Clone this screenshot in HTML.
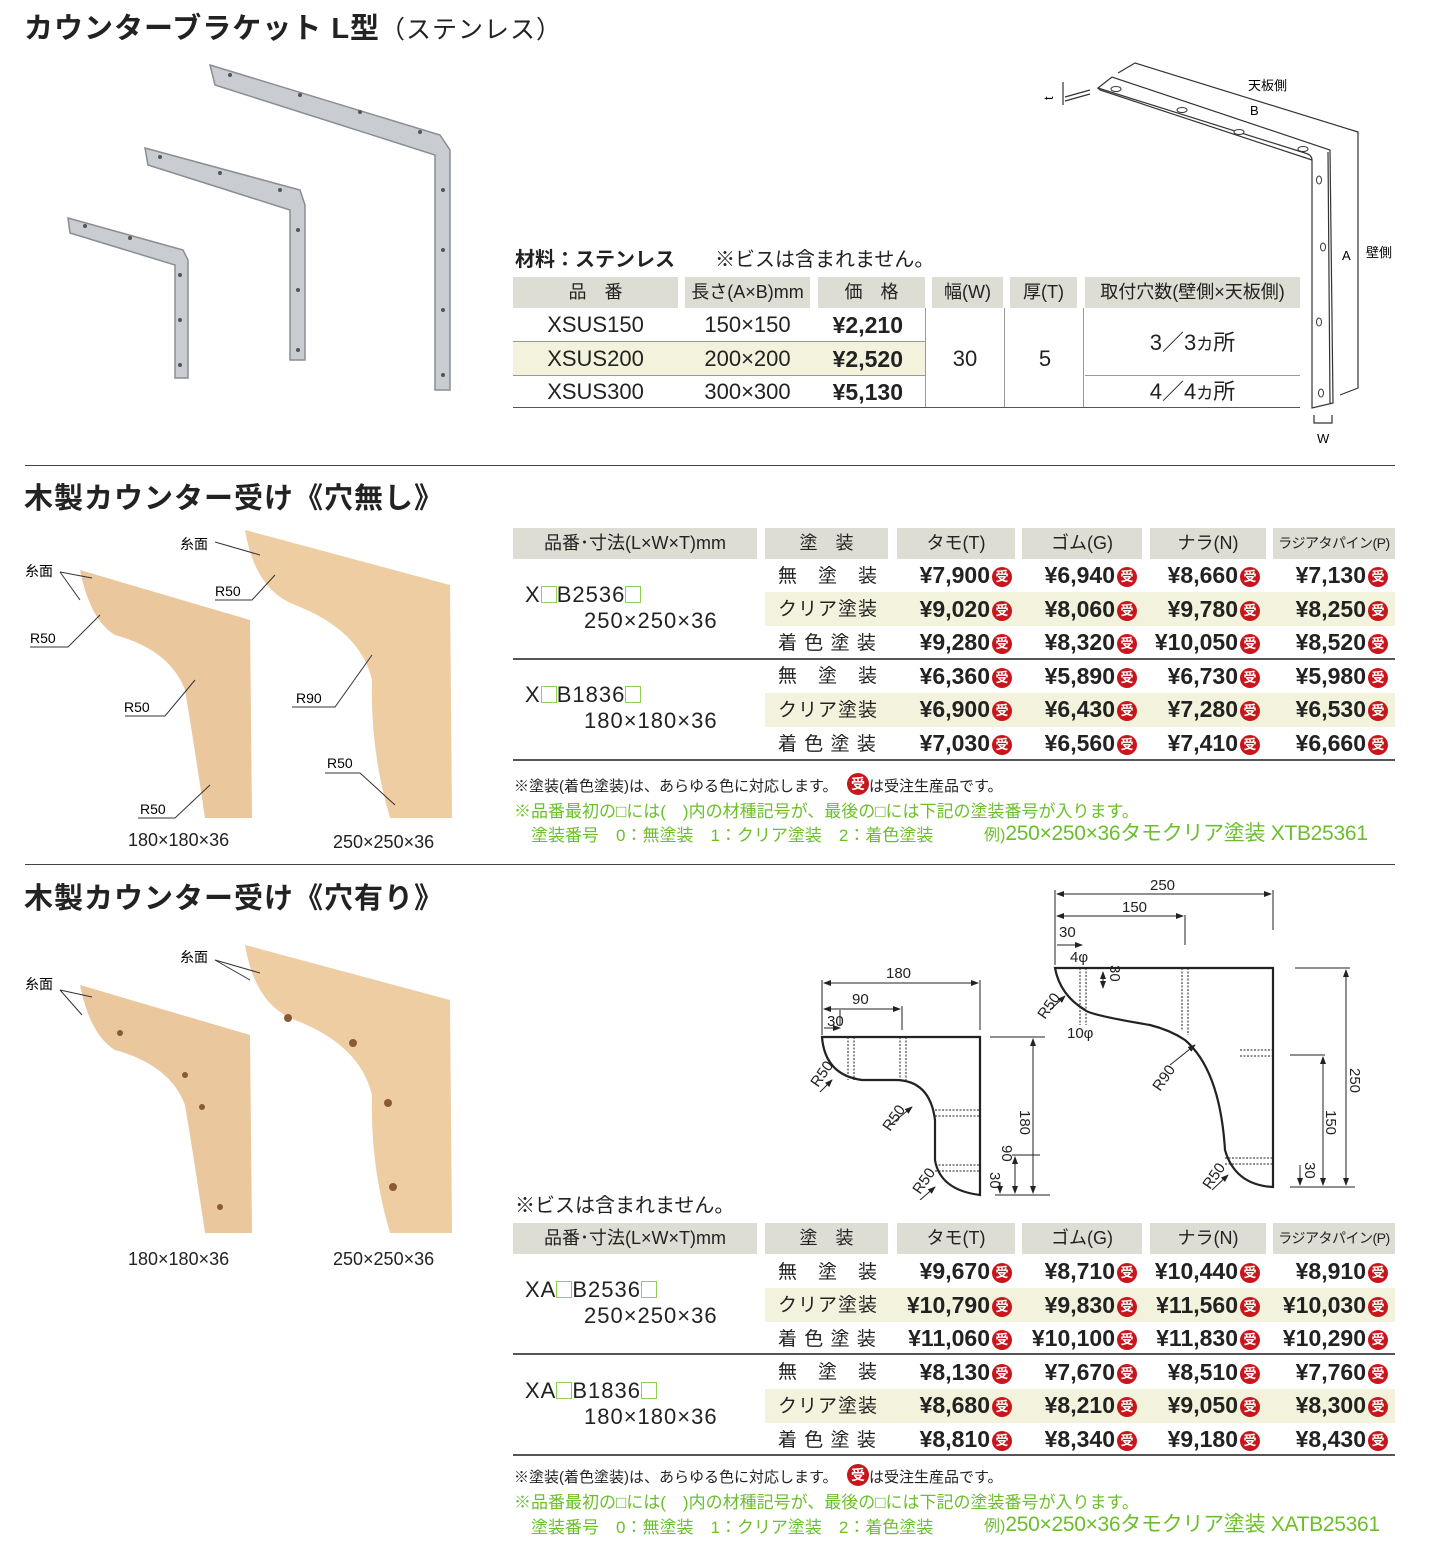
<!DOCTYPE html>
<html><head><meta charset="utf-8">
<style>
*{margin:0;padding:0;box-sizing:border-box}
body{width:1429px;height:1548px;background:#fff;position:relative;overflow:hidden;font-family:"Liberation Sans","Noto Sans CJK JP",sans-serif;color:#222}
.a{position:absolute;white-space:nowrap}
.h1{font-size:29px;font-weight:bold;letter-spacing:1px}
.hd{position:absolute;background:#ddddd3;height:31px;font-size:18px;text-align:center;line-height:31px;white-space:nowrap;overflow:hidden}
.line{position:absolute;height:2px;background:#555}
.tl{position:absolute;height:1px;background:#999}
.hl{position:absolute;background:#f3f3dd}
.t{position:absolute;font-size:22px;text-align:center;line-height:33px}
.p{position:absolute;font-size:23px;font-weight:bold;text-align:right;line-height:33px;white-space:nowrap}
.u{display:inline-block;width:20px;height:20px;border-radius:50%;background:#c8161d;color:#fff;font-size:13px;line-height:20px;text-align:center;vertical-align:2px;margin-left:2px;font-weight:bold}
.ct{position:absolute;font-size:19px;line-height:33px;letter-spacing:1px}
.g{color:#6bbf2a}
.bx{display:inline-block;width:16px;height:17px;border:1.5px solid #8fd14f;vertical-align:-1px}
.note{font-size:15px}
.gn{font-size:17px}
.md{font-size:22px;letter-spacing:1px}
.ex{font-size:21px;letter-spacing:-0.3px}
</style></head><body>

<div class="a h1" style="left:24px;top:5px">カウンターブラケット L型<span style="font-weight:normal;font-size:25px">（ステンレス）</span></div>

<!-- steel brackets -->
<svg class="a" style="left:60px;top:60px" width="400" height="340">
<g fill="#c9ccd0" stroke="#8a8e94" stroke-width="1.5">
<polygon points="150,5 380,75 390,90 390,330 375,330 375,95 155,25"/>
<polygon points="85,88 240,130 245,145 245,300 230,300 230,150 88,105"/>
<polygon points="8,158 123,190 128,200 128,318 115,318 115,205 10,173"/>
</g>
<g fill="#555"><circle cx="170" cy="15" r="2"/><circle cx="240" cy="35" r="2"/><circle cx="300" cy="52" r="2"/><circle cx="360" cy="72" r="2"/><circle cx="383" cy="130" r="2"/><circle cx="383" cy="190" r="2"/><circle cx="383" cy="250" r="2"/><circle cx="383" cy="315" r="2"/>
<circle cx="100" cy="97" r="2"/><circle cx="160" cy="113" r="2"/><circle cx="220" cy="130" r="2"/><circle cx="238" cy="170" r="2"/><circle cx="238" cy="230" r="2"/><circle cx="238" cy="290" r="2"/>
<circle cx="25" cy="166" r="2"/><circle cx="70" cy="178" r="2"/><circle cx="120" cy="215" r="2"/><circle cx="120" cy="260" r="2"/><circle cx="120" cy="305" r="2"/></g>
</svg>

<!-- spec diagram (offset 1040,60) -->
<svg class="a" style="left:1040px;top:60px" width="380" height="400" font-size="13" font-family="Liberation Sans,Noto Sans CJK JP,sans-serif">
<g fill="none" stroke="#333" stroke-width="1.2">
<path d="M58,28 L72,17 L290,90 L293,343 L272,348 L272,100 Q272,95 265,93 L58,28Z"/>
<path d="M58,28 L60,30 L272,100"/>
<path d="M288,92 L290,343"/>
<path d="M78,13 L95,3 L318,72 L318,328 L300,335"/>
<line x1="23" y1="22" x2="23" y2="45"/><line x1="25" y1="37" x2="50" y2="30"/><line x1="25" y1="41" x2="50" y2="34"/>
<path d="M274,355 V363 H292 V355"/>
</g>
<g fill="#fff" stroke="#333" stroke-width="1"><ellipse cx="76" cy="29" rx="5" ry="2.5"/><ellipse cx="142" cy="50" rx="5" ry="2.5"/><ellipse cx="199" cy="72" rx="5" ry="2.5"/><ellipse cx="263" cy="89" rx="5" ry="2.5"/><ellipse cx="279" cy="120" rx="2.5" ry="4"/><ellipse cx="283" cy="187" rx="2.5" ry="4"/><ellipse cx="279" cy="262" rx="2.5" ry="4"/><ellipse cx="281" cy="333" rx="2.5" ry="4"/></g>
<text x="208" y="30">天板側</text><text x="210" y="55">B</text><text x="302" y="200">A</text><text x="326" y="197">壁側</text><text x="277" y="383">W</text><text x="5" y="40" transform="rotate(-90 9 36)">t</text>
</svg>

<div class="a" style="left:515px;top:243px;font-size:20px;font-weight:bold">材料：ステンレス　　<span style="font-weight:normal">※ビスは含まれません。</span></div>

<!-- table1 -->
<div class="hd" style="left:513px;top:277px;width:165px">品　番</div>
<div class="hd" style="left:685px;top:277px;width:125px">長さ(A×B)mm</div>
<div class="hd" style="left:818px;top:277px;width:107px">価　格</div>
<div class="hd" style="left:932px;top:277px;width:71px">幅(W)</div>
<div class="hd" style="left:1010px;top:277px;width:67px">厚(T)</div>
<div class="hd" style="left:1085px;top:277px;width:215px">取付穴数(壁側×天板側)</div>
<div class="hl" style="left:513px;top:341px;width:412px;height:34px"></div>
<div class="tl" style="left:513px;top:341px;width:412px"></div>
<div class="tl" style="left:513px;top:375px;width:412px"></div>
<div class="tl" style="left:1085px;top:375px;width:215px"></div>
<div class="a" style="left:925px;top:308px;width:1px;height:100px;background:#999"></div>
<div class="a" style="left:1004px;top:308px;width:1px;height:100px;background:#999"></div>
<div class="a" style="left:1083px;top:308px;width:1px;height:100px;background:#999"></div>
<div class="line" style="left:513px;top:407px;width:787px;height:1px;background:#555"></div>
<div class="t" style="left:513px;top:308px;width:165px">XSUS150</div>
<div class="t" style="left:513px;top:342px;width:165px">XSUS200</div>
<div class="t" style="left:513px;top:375px;width:165px">XSUS300</div>
<div class="t" style="left:685px;top:308px;width:125px">150×150</div>
<div class="t" style="left:685px;top:342px;width:125px">200×200</div>
<div class="t" style="left:685px;top:375px;width:125px">300×300</div>
<div class="p" style="left:818px;top:309px;width:85px">¥2,210</div>
<div class="p" style="left:818px;top:343px;width:85px">¥2,520</div>
<div class="p" style="left:818px;top:376px;width:85px">¥5,130</div>
<div class="t" style="left:925px;top:342px;width:80px">30</div>
<div class="t" style="left:1005px;top:342px;width:80px">5</div>
<div class="t" style="left:1085px;top:326px;width:215px">3／3<span style="font-size:17px">カ</span>所</div>
<div class="t" style="left:1085px;top:375px;width:215px">4／4<span style="font-size:17px">カ</span>所</div>

<div class="line" style="left:25px;top:465px;width:1370px;height:1px;background:#444"></div>

<div class="a h1" style="left:24px;top:475px">木製カウンター受け《穴無し》</div>

<!-- wood brackets 1 -->
<svg class="a" style="left:20px;top:520px" width="440" height="310" font-size="14" font-family="Liberation Sans,sans-serif">
<path d="M60,50 L230,100 L232,298 L185,298 Q175,230 165,170 Q150,130 95,115 Q70,100 60,50Z" fill="#eac79c"/>
<path d="M225,10 L430,65 L432,298 L370,298 Q350,230 352,160 Q340,110 275,85 Q235,70 225,10Z" fill="#eecda3"/>
<g stroke="#333" fill="none" stroke-width="1">
<path d="M195,22 L240,35"/><path d="M40,52 L72,58"/><path d="M40,52 L60,80"/><path d="M10,127 L48,127 L80,95"/><path d="M105,196 L145,196 L175,160"/><path d="M118,298 L155,298 L190,265"/>
<path d="M195,80 L232,80 L255,55"/><path d="M272,187 L315,187 L352,135"/><path d="M305,253 L340,253 L375,285"/></g>
<text x="160" y="29">糸面</text><text x="5" y="56">糸面</text><text x="10" y="123">R50</text><text x="104" y="192">R50</text><text x="120" y="294">R50</text><text x="195" y="76">R50</text><text x="276" y="183">R90</text><text x="307" y="248">R50</text>
</svg>
<div class="a" style="left:128px;top:830px;font-size:18px">180×180×36</div>
<div class="a" style="left:333px;top:832px;font-size:18px">250×250×36</div>

<!-- wood table 1 -->
<div class="hd" style="left:513px;top:528px;width:244px">品番･寸法(L×W×T)mm</div>
<div class="hd" style="left:765px;top:528px;width:123px">塗　装</div>
<div class="hd" style="left:897px;top:528px;width:118px">タモ(T)</div>
<div class="hd" style="left:1022px;top:528px;width:120px">ゴム(G)</div>
<div class="hd" style="left:1150px;top:528px;width:116px">ナラ(N)</div>
<div class="hd" style="left:1273px;top:528px;width:122px;font-size:14px;letter-spacing:-0.5px">ラジアタパイン(P)</div>
<div class="hl" style="left:765px;top:592px;width:630px;height:34px"></div>
<div class="hl" style="left:765px;top:693px;width:630px;height:34px"></div>
<div class="line" style="left:513px;top:658px;width:882px"></div>
<div class="line" style="left:513px;top:759px;width:882px"></div>
<div class="a md" style="left:525px;top:582px">X<span class="bx"></span>B2536<span class="bx"></span></div>
<div class="a md" style="left:584px;top:608px">250×250×36</div>
<div class="a md" style="left:525px;top:682px">X<span class="bx"></span>B1836<span class="bx"></span></div>
<div class="a md" style="left:584px;top:708px">180×180×36</div>
<div class="ct" style="left:778px;top:560px">無　塗　装</div>
<div class="ct" style="left:778px;top:593px">クリア塗装</div>
<div class="ct" style="left:778px;top:627px">着 色 塗 装</div>
<div class="ct" style="left:778px;top:660px">無　塗　装</div>
<div class="ct" style="left:778px;top:694px">クリア塗装</div>
<div class="ct" style="left:778px;top:728px">着 色 塗 装</div>

<div class="p" style="left:880px;top:559px;width:132px">¥7,900<span class="u">受</span></div>
<div class="p" style="left:1005px;top:559px;width:132px">¥6,940<span class="u">受</span></div>
<div class="p" style="left:1128px;top:559px;width:132px">¥8,660<span class="u">受</span></div>
<div class="p" style="left:1253px;top:559px;width:135px">¥7,130<span class="u">受</span></div>
<div class="p" style="left:880px;top:593px;width:132px">¥9,020<span class="u">受</span></div>
<div class="p" style="left:1005px;top:593px;width:132px">¥8,060<span class="u">受</span></div>
<div class="p" style="left:1128px;top:593px;width:132px">¥9,780<span class="u">受</span></div>
<div class="p" style="left:1253px;top:593px;width:135px">¥8,250<span class="u">受</span></div>
<div class="p" style="left:880px;top:626px;width:132px">¥9,280<span class="u">受</span></div>
<div class="p" style="left:1005px;top:626px;width:132px">¥8,320<span class="u">受</span></div>
<div class="p" style="left:1128px;top:626px;width:132px">¥10,050<span class="u">受</span></div>
<div class="p" style="left:1253px;top:626px;width:135px">¥8,520<span class="u">受</span></div>
<div class="p" style="left:880px;top:660px;width:132px">¥6,360<span class="u">受</span></div>
<div class="p" style="left:1005px;top:660px;width:132px">¥5,890<span class="u">受</span></div>
<div class="p" style="left:1128px;top:660px;width:132px">¥6,730<span class="u">受</span></div>
<div class="p" style="left:1253px;top:660px;width:135px">¥5,980<span class="u">受</span></div>
<div class="p" style="left:880px;top:693px;width:132px">¥6,900<span class="u">受</span></div>
<div class="p" style="left:1005px;top:693px;width:132px">¥6,430<span class="u">受</span></div>
<div class="p" style="left:1128px;top:693px;width:132px">¥7,280<span class="u">受</span></div>
<div class="p" style="left:1253px;top:693px;width:135px">¥6,530<span class="u">受</span></div>
<div class="p" style="left:880px;top:727px;width:132px">¥7,030<span class="u">受</span></div>
<div class="p" style="left:1005px;top:727px;width:132px">¥6,560<span class="u">受</span></div>
<div class="p" style="left:1128px;top:727px;width:132px">¥7,410<span class="u">受</span></div>
<div class="p" style="left:1253px;top:727px;width:135px">¥6,660<span class="u">受</span></div>

<div class="a note" style="left:514px;top:773px">※塗装(着色塗装)は、あらゆる色に対応します。　<span class="u" style="width:22px;height:22px;font-size:14px;line-height:22px">受</span>は受注生産品です。</div>
<div class="a g gn" style="left:514px;top:797px">※品番最初の□には(　)内の材種記号が、最後の□には下記の塗装番号が入ります。</div>
<div class="a g gn" style="left:531px;top:821px">塗装番号　0：無塗装　1：クリア塗装　2：着色塗装</div>
<div class="a g" style="left:984px;top:817px;font-size:16px">例)<span class="ex">250×250×36タモクリア塗装 XTB25361</span></div>

<div class="line" style="left:25px;top:864px;width:1370px;height:1px;background:#444"></div>

<div class="a h1" style="left:24px;top:875px">木製カウンター受け《穴有り》</div>

<svg class="a" style="left:20px;top:935px" width="440" height="300" font-size="14" font-family="Liberation Sans,sans-serif">
<path d="M60,50 L230,100 L232,298 L185,298 Q175,230 165,170 Q150,130 95,115 Q70,100 60,50Z" fill="#eac79c"/>
<path d="M225,10 L430,65 L432,298 L370,298 Q350,230 352,160 Q340,110 275,85 Q235,70 225,10Z" fill="#eecda3"/>
<g fill="#8a5a30"><circle cx="100" cy="98" r="3"/><circle cx="165" cy="140" r="3"/><circle cx="182" cy="172" r="3"/><circle cx="200" cy="272" r="3"/><circle cx="268" cy="83" r="4"/><circle cx="333" cy="108" r="4"/><circle cx="368" cy="168" r="4"/><circle cx="373" cy="252" r="4"/></g>
<g stroke="#333" fill="none"><path d="M195,25 L240,38"/><path d="M195,25 L230,45"/><path d="M40,55 L72,62"/><path d="M40,55 L62,80"/></g>
<text x="160" y="27">糸面</text><text x="5" y="54">糸面</text>
</svg>
<div class="a" style="left:128px;top:1249px;font-size:18px">180×180×36</div>
<div class="a" style="left:333px;top:1249px;font-size:18px">250×250×36</div>

<!-- technical drawings -->
<svg class="a" style="left:780px;top:870px" width="600" height="330" font-size="15" font-family="Liberation Sans,sans-serif" fill="#222">
<defs><marker id="ar" markerWidth="8" markerHeight="8" refX="7" refY="4" orient="auto-start-reverse"><path d="M0,1 L8,4 L0,7Z" fill="#222"/></marker></defs>
<g fill="none" stroke="#222" stroke-width="2.2">
<path d="M42,167 L200,167 L200,325 Q160,320 155,290 L155,250 Q150,210 115,210 L82,210 Q45,205 42,167Z"/>
<path d="M275,98 L493,98 L493,317 Q455,315 445,280 Q440,200 405,170 Q390,160 370,155 Q310,145 305,140 Q280,125 275,98Z"/>
</g>
<g fill="none" stroke="#222" stroke-width="1">
<line x1="42" y1="110" x2="42" y2="165"/><line x1="200" y1="110" x2="200" y2="160"/><line x1="122" y1="136" x2="122" y2="160"/><line x1="60" y1="140" x2="60" y2="155"/>
<line x1="44" y1="113" x2="198" y2="113" marker-start="url(#ar)" marker-end="url(#ar)"/>
<line x1="44" y1="139" x2="120" y2="139" marker-start="url(#ar)" marker-end="url(#ar)"/>
<line x1="44" y1="158" x2="60" y2="158" marker-end="url(#ar)"/>
<line x1="275" y1="20" x2="275" y2="95"/><line x1="493" y1="20" x2="493" y2="60"/><line x1="405" y1="45" x2="405" y2="75"/>
<line x1="277" y1="24" x2="491" y2="24" marker-start="url(#ar)" marker-end="url(#ar)"/>
<line x1="277" y1="46" x2="403" y2="46" marker-start="url(#ar)" marker-end="url(#ar)"/>
<line x1="277" y1="75" x2="302" y2="75" marker-end="url(#ar)"/>
<line x1="210" y1="167" x2="265" y2="167"/><line x1="232" y1="285" x2="260" y2="285"/><line x1="215" y1="325" x2="270" y2="325"/>
<line x1="253" y1="169" x2="253" y2="323" marker-start="url(#ar)" marker-end="url(#ar)"/>
<line x1="235" y1="287" x2="235" y2="323" marker-start="url(#ar)" marker-end="url(#ar)"/>
<line x1="220" y1="312" x2="220" y2="323" marker-end="url(#ar)"/>
<line x1="515" y1="98" x2="570" y2="98"/><line x1="510" y1="185" x2="545" y2="185"/><line x1="510" y1="317" x2="575" y2="317"/>
<line x1="566" y1="100" x2="566" y2="315" marker-start="url(#ar)" marker-end="url(#ar)"/>
<line x1="543" y1="187" x2="543" y2="315" marker-start="url(#ar)" marker-end="url(#ar)"/>
<line x1="520" y1="295" x2="520" y2="315" marker-end="url(#ar)"/>
<line x1="40" y1="222" x2="52" y2="210" marker-end="url(#ar)"/><line x1="110" y1="255" x2="132" y2="237" marker-end="url(#ar)"/><line x1="140" y1="330" x2="155" y2="317" marker-end="url(#ar)"/>
<line x1="270" y1="140" x2="285" y2="126" marker-end="url(#ar)"/><line x1="390" y1="195" x2="415" y2="175" marker-end="url(#ar)"/><line x1="432" y1="320" x2="448" y2="305" marker-end="url(#ar)"/>
<line x1="323" y1="102" x2="323" y2="118" marker-start="url(#ar)" marker-end="url(#ar)"/>
</g>
<g fill="none" stroke="#222" stroke-width="1" stroke-dasharray="2,1.5">
<path d="M68,167 V210 M74,167 V210 M120,167 V210 M126,167 V210"/>
<path d="M155,240 H200 M155,246 H200 M155,295 H200 M155,301 H200"/>
<path d="M300,98 V155 M306,98 V155 M402,98 V160 M408,98 V165"/>
<path d="M460,180 H493 M460,186 H493 M445,288 H493 M445,294 H493"/>
</g>
<text x="106" y="108">180</text><text x="72" y="134">90</text><text x="47" y="156">30</text>
<text x="370" y="20">250</text><text x="342" y="42">150</text><text x="279" y="67">30</text><text x="290" y="92">4φ</text><text x="287" y="168">10φ</text>
<text transform="translate(240,240) rotate(90)">180</text><text transform="translate(222,275) rotate(90)">90</text><text transform="translate(210,302) rotate(90)">30</text>
<text transform="translate(570,198) rotate(90)">250</text><text transform="translate(546,240) rotate(90)">150</text><text transform="translate(525,292) rotate(90)">30</text><text transform="translate(330,95) rotate(90)">30</text>
<text transform="translate(38,218) rotate(-55)">R50</text><text transform="translate(110,262) rotate(-55)">R50</text><text transform="translate(140,325) rotate(-55)">R50</text>
<text transform="translate(265,150) rotate(-55)">R50</text><text transform="translate(380,222) rotate(-55)">R90</text><text transform="translate(430,320) rotate(-55)">R50</text>
</svg>

<div class="a" style="left:515px;top:1189px;font-size:20px">※ビスは含まれません。</div>

<div class="hd" style="left:513px;top:1223px;width:244px">品番･寸法(L×W×T)mm</div>
<div class="hd" style="left:765px;top:1223px;width:123px">塗　装</div>
<div class="hd" style="left:897px;top:1223px;width:118px">タモ(T)</div>
<div class="hd" style="left:1022px;top:1223px;width:120px">ゴム(G)</div>
<div class="hd" style="left:1150px;top:1223px;width:116px">ナラ(N)</div>
<div class="hd" style="left:1273px;top:1223px;width:122px;font-size:14px;letter-spacing:-0.5px">ラジアタパイン(P)</div>
<div class="hl" style="left:765px;top:1288px;width:630px;height:34px"></div>
<div class="hl" style="left:765px;top:1389px;width:630px;height:34px"></div>
<div class="line" style="left:513px;top:1353px;width:882px"></div>
<div class="line" style="left:513px;top:1454px;width:882px"></div>
<div class="a md" style="left:525px;top:1277px">XA<span class="bx"></span>B2536<span class="bx"></span></div>
<div class="a md" style="left:584px;top:1303px">250×250×36</div>
<div class="a md" style="left:525px;top:1378px">XA<span class="bx"></span>B1836<span class="bx"></span></div>
<div class="a md" style="left:584px;top:1404px">180×180×36</div>
<div class="ct" style="left:778px;top:1256px">無　塗　装</div>
<div class="ct" style="left:778px;top:1289px">クリア塗装</div>
<div class="ct" style="left:778px;top:1323px">着 色 塗 装</div>
<div class="ct" style="left:778px;top:1356px">無　塗　装</div>
<div class="ct" style="left:778px;top:1390px">クリア塗装</div>
<div class="ct" style="left:778px;top:1424px">着 色 塗 装</div>

<div class="p" style="left:880px;top:1255px;width:132px">¥9,670<span class="u">受</span></div>
<div class="p" style="left:1005px;top:1255px;width:132px">¥8,710<span class="u">受</span></div>
<div class="p" style="left:1128px;top:1255px;width:132px">¥10,440<span class="u">受</span></div>
<div class="p" style="left:1253px;top:1255px;width:135px">¥8,910<span class="u">受</span></div>
<div class="p" style="left:880px;top:1289px;width:132px">¥10,790<span class="u">受</span></div>
<div class="p" style="left:1005px;top:1289px;width:132px">¥9,830<span class="u">受</span></div>
<div class="p" style="left:1128px;top:1289px;width:132px">¥11,560<span class="u">受</span></div>
<div class="p" style="left:1253px;top:1289px;width:135px">¥10,030<span class="u">受</span></div>
<div class="p" style="left:880px;top:1322px;width:132px">¥11,060<span class="u">受</span></div>
<div class="p" style="left:1005px;top:1322px;width:132px">¥10,100<span class="u">受</span></div>
<div class="p" style="left:1128px;top:1322px;width:132px">¥11,830<span class="u">受</span></div>
<div class="p" style="left:1253px;top:1322px;width:135px">¥10,290<span class="u">受</span></div>
<div class="p" style="left:880px;top:1356px;width:132px">¥8,130<span class="u">受</span></div>
<div class="p" style="left:1005px;top:1356px;width:132px">¥7,670<span class="u">受</span></div>
<div class="p" style="left:1128px;top:1356px;width:132px">¥8,510<span class="u">受</span></div>
<div class="p" style="left:1253px;top:1356px;width:135px">¥7,760<span class="u">受</span></div>
<div class="p" style="left:880px;top:1389px;width:132px">¥8,680<span class="u">受</span></div>
<div class="p" style="left:1005px;top:1389px;width:132px">¥8,210<span class="u">受</span></div>
<div class="p" style="left:1128px;top:1389px;width:132px">¥9,050<span class="u">受</span></div>
<div class="p" style="left:1253px;top:1389px;width:135px">¥8,300<span class="u">受</span></div>
<div class="p" style="left:880px;top:1423px;width:132px">¥8,810<span class="u">受</span></div>
<div class="p" style="left:1005px;top:1423px;width:132px">¥8,340<span class="u">受</span></div>
<div class="p" style="left:1128px;top:1423px;width:132px">¥9,180<span class="u">受</span></div>
<div class="p" style="left:1253px;top:1423px;width:135px">¥8,430<span class="u">受</span></div>

<div class="a note" style="left:514px;top:1464px">※塗装(着色塗装)は、あらゆる色に対応します。　<span class="u" style="width:22px;height:22px;font-size:14px;line-height:22px">受</span>は受注生産品です。</div>
<div class="a g gn" style="left:514px;top:1488px">※品番最初の□には(　)内の材種記号が、最後の□には下記の塗装番号が入ります。</div>
<div class="a g gn" style="left:531px;top:1513px">塗装番号　0：無塗装　1：クリア塗装　2：着色塗装</div>
<div class="a g" style="left:984px;top:1508px;font-size:16px">例)<span class="ex">250×250×36タモクリア塗装 XATB25361</span></div>

</body></html>
